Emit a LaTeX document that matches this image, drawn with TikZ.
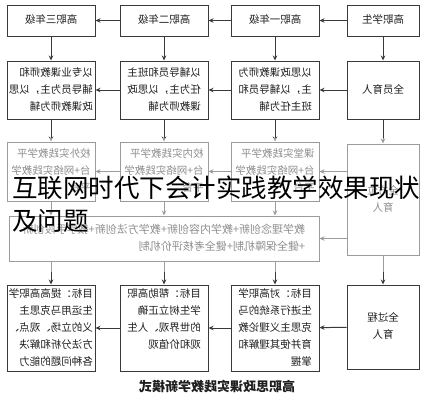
\documentclass[tikz,border=0pt]{standalone}
\usepackage{fontspec}
\usepackage{graphicx}
\setmainfont{Noto Sans CJK SC}
\usetikzlibrary{arrows.meta,positioning}
\definecolor{mkline}{HTML}{3A3A3A}
\definecolor{mktext}{HTML}{1E1E1E}
\newcommand{\flip}[1]{\reflectbox{\begin{tabular}{@{}l@{}}#1\end{tabular}}}
\newcommand{\flipc}[1]{\reflectbox{\begin{tabular}{@{}c@{}}#1\end{tabular}}}

\begin{document}
\begin{tikzpicture}[x=1pt,y=-1pt,
  box/.style={rectangle,draw=mkline,line width=1pt,inner sep=0pt,text=mktext,
    font=\fontsize{10.5}{17}\selectfont},
  head/.style={box,minimum width=88pt,minimum height=31pt},
  role/.style={box,minimum width=88pt,minimum height=58pt},
  plat/.style={box,minimum width=88pt,minimum height=59pt},
  goal/.style={box,minimum width=88pt,minimum height=86pt},
  side/.style={minimum width=72pt},
  edge/.style={mkline,line width=1pt,-{Stealth[length=5pt,width=4.5pt]}}]
  \useasboundingbox (0,0) rectangle (428,400);
  % grades
  \node[head,side] (stu) at (383,20.5) {\flipc{高职学生}};
  \node[head,left=27pt of stu] (yr1) {\flipc{高职一年级}};
  \node[head,left=22pt of yr1] (yr2) {\flipc{高职二年级}};
  \node[head,left=24pt of yr2] (yr3) {\flipc{高职三年级}};
  % teachers
  \node[role,side,below=24pt of stu] (quan) {\flipc{全员育人}};
  \node[role,below=24pt of yr1] (t1) {\flip{以思政课教师为\\主，以辅导员和\\班主任为辅}};
  \node[role,below=24pt of yr2] (t2) {\flip{以辅导员和班主\\任为主，以思政\\课教师为辅}};
  \node[role,below=24pt of yr3] (t3) {\flip{以专业课教师和\\辅导员为主，以思\\政课教师为辅}};
  % platforms
  \node[box,side,minimum height=111pt,below=24pt of quan] (fang) {\flipc{全方位\\育人}};
  \node[plat,below=22pt of t1] (p1) {\flip{课堂实践教学平\\台+网络实践教学\\平台}};
  \node[plat,below=22pt of t2] (p2) {\flip{校内实践教学平\\台+网络实践教学\\平台}};
  \node[plat,below=22pt of t3] (p3) {\flip{校外实践教学平\\台+网络实践教学\\平台}};
  \node[box,minimum width=310pt,minimum height=45pt,below=14pt of p2,
    font=\fontsize{11}{17}\selectfont] (innov)
    {\flip{教学理念创新+教学内容创新+教学方法创新+教学手段创新\\+健全保障机制+健全考核评价机制}};
  % goals
  \node[box,side,minimum height=84pt,below=29pt of fang] (guo) {\flipc{全过程\\育人}};
  \node[goal,below=23pt of innov] (g2) {\flip{目标：帮助高职\\学生树立正确\\的世界观、人生\\观和价值观\\~}};
  \node[goal,right=22pt of g2] (g1) {\flip{目标：对高职学\\生进行系统的马\\克思主义理论教\\育并使其理解和\\掌握}};
  \node[goal,left=24pt of g2] (g3) {\flip{目标：提高高职学\\生运用马克思主\\义的立场、观点、\\方法分析和解决\\各种问题的能力}};
  \node[font=\fontsize{13}{15}\selectfont\bfseries,text=mktext] (title) at (217,386)
    {\reflectbox{高职思政课实践教学新模式}};
  % flow to the left
  \draw[edge] (stu) -- (yr1); \draw[edge] (yr1) -- (yr2); \draw[edge] (yr2) -- (yr3);
  \draw[edge] (quan) -- (t1); \draw[edge] (t1) -- (t2); \draw[edge] (t2) -- (t3);
  \draw[edge] (fang.west |- p1) -- (p1); \draw[edge] (p1) -- (p2); \draw[edge] (p2) -- (p3);
  \draw[edge] (fang.west |- innov) -- (innov);
  \draw[edge] (guo) -- (g1); \draw[edge] (g1) -- (g2); \draw[edge] (g2) -- (g3);
  % flow down
  \draw[edge] (stu) -- (quan); \draw[edge] (yr1) -- (t1);
  \draw[edge] (yr2) -- (t2);   \draw[edge] (yr3) -- (t3);
  \draw[edge] (quan) -- (fang); \draw[edge] (t1) -- (p1);
  \draw[edge] (t2) -- (p2);     \draw[edge] (t3) -- (p3);
  \draw[edge] (p1) -- (p1 |- innov.north); \draw[edge] (p2) -- (innov);
  \draw[edge] (p3) -- (p3 |- innov.north);
  \draw[edge] (innov.south -| g1) -- (g1); \draw[edge] (innov) -- (g2);
  \draw[edge] (innov.south -| g3) -- (g3); \draw[edge] (fang) -- (guo);
  % caption over the middle band
  \fill[white,opacity=0.5] (0,138) rectangle (428,272);
  \node[anchor=north west,inner sep=0pt,align=left,
    font=\fontsize{25.5}{33}\selectfont] (cap) at (12,176)
    {互联网时代下会计实践教学效果现状\\及问题};
\end{tikzpicture}
\end{document}
